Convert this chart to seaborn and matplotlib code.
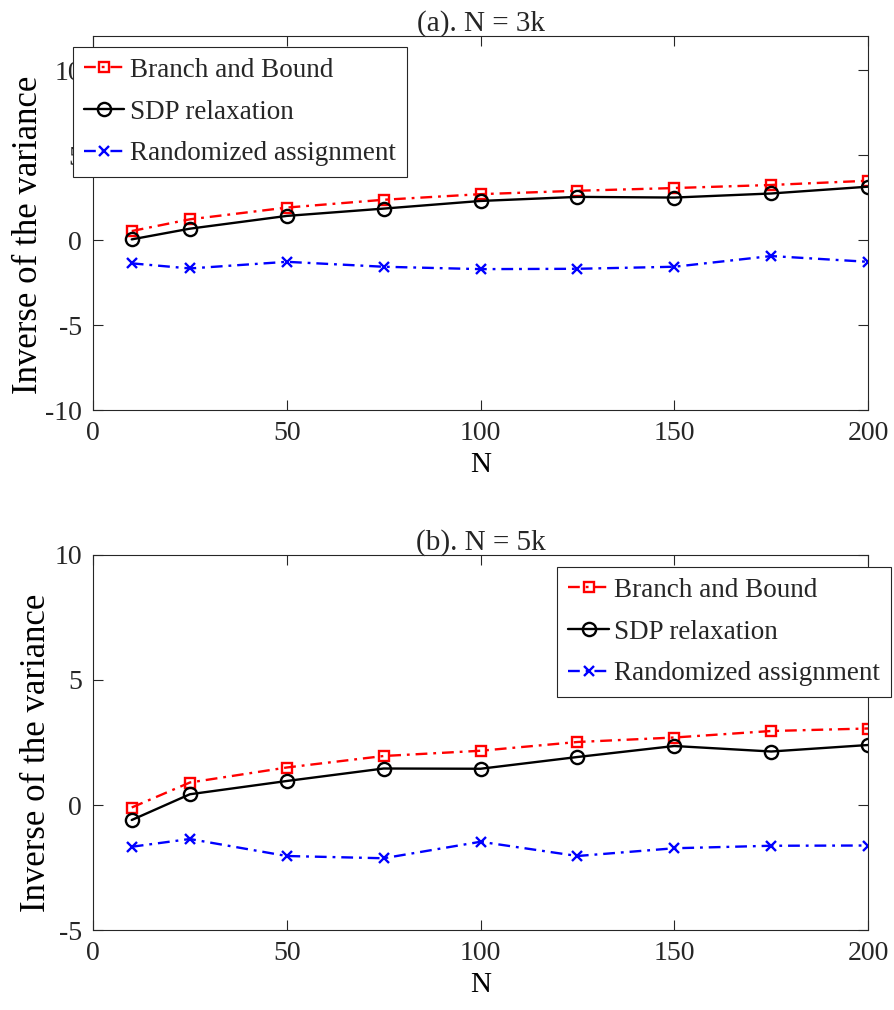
import matplotlib
matplotlib.use('Agg')
import matplotlib.pyplot as plt
import pandas as pd
import seaborn as sns


# data
n_values = [10, 25, 50, 75, 100, 125, 150, 175, 200]

bnb_3k = [0.53, 1.22, 1.91, 2.37, 2.70, 2.90, 3.06, 3.24, 3.49]
sdp_3k = [0.04, 0.67, 1.42, 1.85, 2.30, 2.54, 2.50, 2.74, 3.14]
rand_3k = [-1.37, -1.67, -1.28, -1.57, -1.71, -1.69, -1.57, -0.94, -1.28]

bnb_5k = [-0.10, 0.90, 1.50, 1.96, 2.17, 2.52, 2.70, 2.96, 3.06]
sdp_5k = [-0.60, 0.43, 0.96, 1.46, 1.45, 1.92, 2.36, 2.14, 2.40]
rand_5k = [-1.67, -1.36, -2.04, -2.13, -1.47, -2.04, -1.73, -1.63, -1.62]

series_names = ['Branch and Bound', 'SDP relaxation', 'Randomized assignment']
x_ticks = [0, 50, 100, 150, 200]

# style
sns.set_style('ticks')
plt.rcParams['font.family'] = ['Liberation Serif', 'DejaVu Serif']
plt.rcParams['axes.unicode_minus'] = False
axis_gray = '#262626'
dash_dot = (0, (5, 2.5, 1.2, 2.5))

styles = [
    dict(color='red', marker='s', linestyle=dash_dot, markersize=7),
    dict(color='black', marker='o', linestyle='-', markersize=9.5),
    dict(color='blue', marker='x', linestyle=dash_dot, markersize=7),
]

# initialize figure
fig = plt.figure(figsize=(8.94, 10.1), dpi=100)
ax_top = fig.add_axes([0.104, 0.594, 0.867, 0.3703])
ax_bot = fig.add_axes([0.104, 0.0792, 0.867, 0.3713])

panels = [
    (ax_top, [bnb_3k, sdp_3k, rand_3k], '(a). N = 3k', (-10, 12), [-10, -5, 0, 5, 10], (-0.062, 0.468)),
    (ax_bot, [bnb_5k, sdp_5k, rand_5k], '(b). N = 5k', (-5, 10), [-5, 0, 5, 10], (-0.051, 0.472)),
]

for ax, values, title, ylim, yticks, ylab_xy in panels:
    df = pd.DataFrame({'N': n_values})
    for name, vals, st in zip(series_names, values, styles):
        sns.lineplot(
            x=df['N'], y=vals, ax=ax, label=name, legend=False,
            color=st['color'], marker=st['marker'], linestyle=st['linestyle'],
            markersize=st['markersize'], markerfacecolor='none',
            markeredgecolor=st['color'], markeredgewidth=1.7, linewidth=1.7,
        )

    ax.set_xlim(0, 200)
    ax.set_ylim(*ylim)
    ax.set_xticks(x_ticks)
    ax.set_yticks(yticks)
    ax.tick_params(direction='in', top=True, right=True, length=7, width=0.8,
                   labelsize=20, colors=axis_gray, pad=8)
    for sp in ax.spines.values():
        sp.set_color(axis_gray)
        sp.set_linewidth(0.8)
    ax.set_xlabel('N', fontsize=21, color='black', labelpad=4)
    ax.set_ylabel('Inverse of the variance', fontsize=25, color='black')
    ax.yaxis.set_label_coords(*ylab_xy)
    ax.set_title(title, fontsize=21, pad=4)

# legends placed in figure coordinates
leg_kw = dict(fontsize=19.5, frameon=True, fancybox=False, framealpha=1,
              edgecolor=axis_gray, handlelength=1.5, handletextpad=0.2,
              labelspacing=0.62, borderpad=0.4, borderaxespad=0,
              bbox_transform=fig.transFigure)
leg1 = ax_top.legend(handles=ax_top.get_lines()[:3], labels=series_names,
                     loc='upper left', bbox_to_anchor=(0.0817, 0.9535), **leg_kw)
leg2 = ax_bot.legend(handles=ax_bot.get_lines()[:3], labels=series_names,
                     loc='upper right', bbox_to_anchor=(0.9966, 0.4386), **leg_kw)
for leg in (leg1, leg2):
    leg.get_frame().set_linewidth(0.8)
    leg.set_zorder(5)

plt.savefig('out.png', dpi=100)
